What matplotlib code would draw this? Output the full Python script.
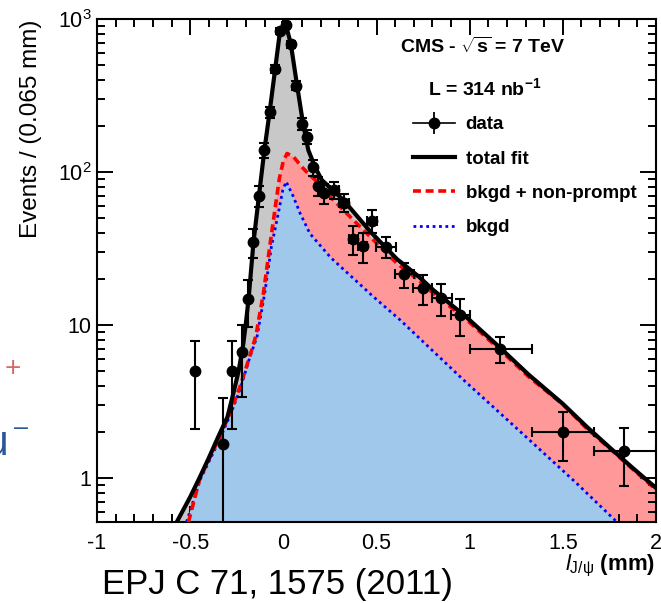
import numpy as np
import matplotlib
matplotlib.use("Agg")
import matplotlib.pyplot as plt
from matplotlib.lines import Line2D
from matplotlib.legend_handler import HandlerTuple
from matplotlib.ticker import FixedLocator, MultipleLocator, LogLocator, NullFormatter

plt.rcParams['font.family'] = ['Liberation Sans', 'DejaVu Sans']
plt.rcParams['mathtext.fontset'] = 'custom'
plt.rcParams['mathtext.rm'] = 'Liberation Sans'
plt.rcParams['mathtext.it'] = 'Liberation Sans:italic'
plt.rcParams['mathtext.bf'] = 'Liberation Sans:bold'

# ---------------- data ----------------
data_x = [-0.474, -0.325, -0.275, -0.223, -0.188, -0.161, -0.132, -0.102, -0.073, -0.043,
          -0.018, 0.015, 0.040, 0.068, 0.100, 0.129, 0.161, 0.188, 0.220, 0.274,
          0.326, 0.376, 0.426, 0.476, 0.550, 0.650, 0.748, 0.848, 0.948, 1.165,
          1.500, 1.830]
data_y = [5.0, 1.67, 5.0, 6.66, 14.7, 35, 69.7, 139, 246, 471,
          834, 912, 684, 367, 206, 170, 107, 81, 73, 76.3,
          63, 36.5, 33, 48, 32.2, 21.5, 17.5, 14.9, 11.6, 6.97,
          2.0, 1.5]
data_yerr_lo = [2.9, 1.6, 2.9, 3.3, 5.0, 7.6, 10.8, 15, 20, 28,
                37, 39, 34, 25, 18.5, 17, 13.4, 11.6, 11, 10.2,
                8.5, 7.8, 7.5, 8.2, 4.9, 4.1, 3.9, 3.4, 3.1, 1.3,
                0.71, 0.61]
data_yerr_hi = [2.9, 1.68, 2.9, 3.3, 5.0, 7.6, 10.8, 15, 20, 28,
                37, 39, 34, 25, 18.5, 17, 13.4, 11.6, 11, 10.2,
                8.5, 7.9, 7.0, 8.5, 5.2, 3.8, 3.7, 3.6, 3.1, 1.33,
                0.71, 0.61]
data_xerr_lo = [0, 0, 0, 0, 0, 0, 0, 0, 0, 0,
                0, 0, 0, 0, 0, 0, 0, 0, 0, 0.025,
                0.025, 0.025, 0.025, 0.025, 0.052, 0.05, 0.05, 0.05, 0.05, 0.163,
                0.167, 0.162]
data_xerr_hi = [0, 0, 0, 0, 0, 0, 0, 0, 0, 0,
                0, 0, 0, 0, 0, 0, 0, 0, 0, 0.025,
                0.025, 0.025, 0.025, 0.025, 0.052, 0.05, 0.05, 0.055, 0.055, 0.172,
                0.167, 0.17]

# total fit
fit_x = [-0.572, -0.50, -0.45, -0.40, -0.35, -0.30, -0.27, -0.24, -0.215, -0.20,
         -0.185, -0.161, -0.132, -0.102, -0.073, -0.043, -0.018, 0.010, 0.040, 0.072,
         0.105, 0.134, 0.170, 0.206, 0.322, 0.465, 0.609, 0.725, 0.805, 0.984,
         1.163, 1.315, 1.50, 1.63, 1.754, 1.879, 2.0]
fit_y = [0.515, 0.75, 1.0, 1.35, 1.85, 2.5, 3.5, 5.0, 7.5, 10.5,
         15.5, 34, 68, 138, 250, 480, 830, 950, 690, 380,
         210, 139, 108, 88.7, 65.6, 41, 27, 20.8, 16.9, 11.2,
         7.1, 4.75, 3.05, 2.15, 1.57, 1.15, 0.86]

# bkgd + non-prompt
np_x = [-0.509, -0.447, -0.357, -0.286, -0.232, -0.179, -0.146, -0.134, -0.107, -0.073,
        -0.039, -0.021, 0.0, 0.02, 0.054, 0.099, 0.143, 0.170, 0.251, 0.358,
        0.483, 0.609, 0.725, 0.805, 0.984, 1.163, 1.315, 1.504, 1.629, 1.754,
        1.879, 2.0]
np_y = [0.515, 1.0, 1.69, 2.64, 3.96, 6.3, 8.6, 10.5, 16.1, 32.5,
        64.2, 91, 118, 132, 126, 108, 95, 89, 69, 51,
        36, 25.3, 19.7, 16.1, 10.8, 6.87, 4.6, 3.0, 2.1, 1.55,
        1.13, 0.84]

# bkgd
bkg_x = [-0.519, -0.447, -0.357, -0.286, -0.232, -0.179, -0.141, -0.10, -0.064, -0.027,
         -0.003, 0.015, 0.054, 0.090, 0.143, 0.255, 0.483, 0.626, 0.967, 1.163,
         1.360, 1.575, 1.79]
bkg_y = [0.515, 0.97, 1.63, 2.55, 3.8, 6.2, 8.4, 16.1, 32.5, 53.7,
         76, 86.5, 69, 53.7, 39.5, 27.5, 15.3, 10.8, 4.37, 2.65,
         1.6, 0.92, 0.515]

xtick_vals = [-1, -0.5, 0, 0.5, 1, 1.5, 2]
xtick_labels = ["-1", "-0.5", "0", "0.5", "1", "1.5", "2"]
ytick_vals = [1, 10, 100, 1000]
ytick_labels = ["1", "10", r"$\mathregular{10^{2}}$", r"$\mathregular{10^{3}}$"]

legend_labels = ["data", "total fit", "bkgd + non-prompt", "bkgd"]

# ---------------- figure ----------------
W, H = 661, 603
fig = plt.figure(figsize=(W / 100, H / 100), dpi=100)
ax = fig.add_axes([97 / W, 1 - 522 / H, (656 - 97) / W, (522 - 19) / H])
ax.set_yscale('log')
ax.set_xlim(-1, 2)
ax.set_ylim(0.515, 1000)

base = 1e-3
ax.fill_between(fit_x, base, fit_y, color='#c8c8c8', lw=0, zorder=1)
ax.fill_between(np_x, base, np_y, color='#ff9999', lw=0, zorder=1.5)
ax.fill_between(bkg_x, base, bkg_y, color='#a0c8ea', lw=0, zorder=2)

ax.plot(bkg_x, bkg_y, color='#0000ff', lw=2.0, dashes=(1.0, 1.3), zorder=3)
ax.plot(np_x, np_y, color='#ff0000', lw=2.6, dashes=(2.2, 1.3), zorder=3.2)
ax.plot(fit_x, fit_y, color='black', lw=3.0, zorder=4, solid_joinstyle='round')

ax.errorbar(data_x, data_y, yerr=[data_yerr_lo, data_yerr_hi],
            xerr=[data_xerr_lo, data_xerr_hi], fmt='o', color='black',
            ms=7.5, elinewidth=1.5, capsize=3.5, capthick=1.5, zorder=5)

ax.xaxis.set_major_locator(FixedLocator(xtick_vals))
ax.set_xticklabels(xtick_labels)
ax.xaxis.set_minor_locator(MultipleLocator(0.1))
ax.yaxis.set_major_locator(FixedLocator(ytick_vals))
ax.set_yticklabels(ytick_labels)
ax.yaxis.set_minor_locator(LogLocator(base=10, subs=np.arange(2, 10)))
ax.yaxis.set_minor_formatter(NullFormatter())
ax.tick_params(which='both', direction='in', top=True, right=True, width=1.4)
ax.tick_params(which='major', length=11.5)
ax.tick_params(which='minor', length=5.8)
ax.tick_params(axis='x', pad=8, labelsize=15.5)
ax.tick_params(axis='y', pad=4, labelsize=15.5)
for s in ax.spines.values():
    s.set_linewidth(1.5)

# axis labels
fig.text(31.5 / W, 1 - 20 / H, "Events / (0.065 mm)", rotation=90,
         ha='center', va='top', fontsize=17.5)
fig.text(655 / W, 1 - 570 / H, r"$\mathit{l}_{\mathrm{J/\psi}}$ (mm)",
         ha='right', va='baseline', fontsize=16, fontweight='bold')

# header texts
fig.text(483 / W, 1 - 47 / H, r"CMS - $\sqrt{\mathbf{s}}$ = 7 TeV",
         ha='center', va='center', fontsize=14, fontweight='bold')
fig.text(485 / W, 1 - 88 / H, r"L = 314 nb$^{\mathbf{-1}}$",
         ha='center', va='center', fontsize=14, fontweight='bold')

handles = [
    (Line2D([], [], color='black', lw=1.2),
     Line2D([], [], marker='o', ls='none', color='black', ms=7.5),
     Line2D([], [], marker='|', ls='none', color='black', ms=16, mew=1.3)),
    Line2D([], [], color='black', lw=3),
    Line2D([], [], color='#ff0000', lw=2.6, dashes=(2.2, 1.3)),
    Line2D([], [], color='#0000ff', lw=2.0, dashes=(1.0, 1.3)),
]
ax.legend(handles, legend_labels, handler_map={tuple: HandlerTuple(ndivide=1, pad=0)},
          loc='upper left', bbox_to_anchor=(413 / W, 1 - 116 / H),
          bbox_transform=fig.transFigure, frameon=False, borderpad=0,
          borderaxespad=0, handlelength=2.25, handletextpad=0.55,
          labelspacing=0.92, prop={'weight': 'bold', 'size': 13.5})

# slide remnants
fig.text(102 / W, 1 - 594 / H, "EPJ C 71, 1575 (2011)", ha='left', va='baseline',
         fontsize=25)
fig.text(12.5 / W, 1 - 369.5 / H, "+", ha='center', va='center', fontsize=20,
         color='#d46a6a')
fig.text(8 / W, 1 - 455 / H, "μ", ha='right', va='baseline', fontsize=30,
         color='#2b5797')
fig.text(20.5 / W, 1 - 428 / H, "\u2013", ha='center', va='center', fontsize=18,
         color='#2b5797')

fig.savefig("out.png", dpi=100)
